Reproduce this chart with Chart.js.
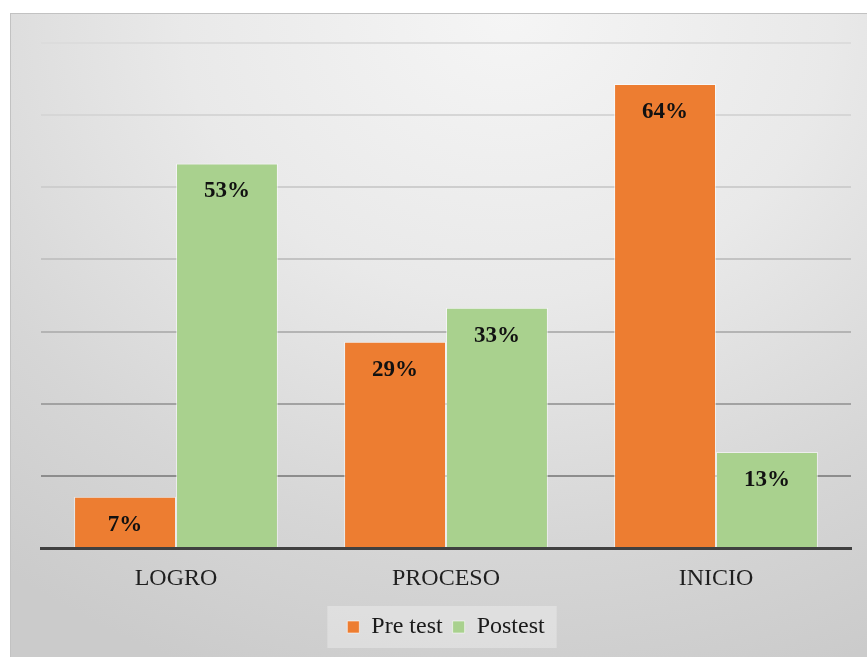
<!DOCTYPE html>
<html>
<head>
<meta charset="utf-8">
<script src="https://cdn.jsdelivr.net/npm/chart.js@4"></script>
<style>
  html, body { margin: 0; padding: 0; background: #ffffff; width: 867px; height: 657px; overflow: hidden; }
  #box {
    position: absolute; left: 10px; top: 13px; width: 856px; height: 643px;
    border-left: 1px solid #c2c2c2; border-top: 1px solid #c2c2c2;
    background: radial-gradient(ellipse 95% 110% at 58% 0%, #f5f5f5 0%, #e9e9e9 40%, #d6d6d6 75%, #cbcbcb 100%);
  }
  #wrap { position: absolute; left: 0; top: 0; width: 856px; height: 643px; }
</style>
</head>
<body>
<div id="box"><div id="wrap"><canvas id="c"></canvas></div></div>
<script>
const categories = ['LOGRO', 'PROCESO', 'INICIO'];
const seriesNames = ['Pre test', 'Postest'];
const preTest = [7.1, 28.6, 64.3];
const postTest = [53.3, 33.3, 13.3];
const yTicks = [0, 10, 20, 30, 40, 50, 60, 70];

const gridColors = ['rgba(0,0,0,0)', '#8d8d8d', '#a2a2a2', '#b4b4b4', '#c3c3c3', '#cecece', '#d6d6d6', '#dcdcdc'];

const legendBg = {
  id: 'legendBg',
  beforeDraw(chart) {
    const lg = chart.legend;
    if (!lg || !lg.legendHitBoxes || !lg.legendHitBoxes.length) return;
    const hb = lg.legendHitBoxes;
    const l = hb[0].left - 20;
    const last = hb[hb.length - 1];
    const r = last.left + last.width + 12;
    const ctx = chart.ctx;
    ctx.save();
    ctx.fillStyle = 'rgba(255,255,255,0.3)';
    ctx.fillRect(l, lg.top + 1, r - l, lg.height - 2);
    ctx.restore();
  }
};

const dataLabels = {
  id: 'dataLabels',
  afterDatasetsDraw(chart) {
    const ctx = chart.ctx;
    ctx.save();
    ctx.font = 'bold 23px "Liberation Serif", "Times New Roman", serif';
    ctx.fillStyle = '#111111';
    ctx.textAlign = 'center';
    ctx.textBaseline = 'middle';
    chart.data.datasets.forEach((ds, di) => {
      const meta = chart.getDatasetMeta(di);
      meta.data.forEach((bar, i) => {
        ctx.fillText(Math.round(ds.data[i]) + '%', bar.x, bar.y + 28);
      });
    });
    ctx.restore();
  }
};

new Chart(document.getElementById('c'), {
  type: 'bar',
  data: {
    labels: categories,
    datasets: [
      { label: seriesNames[0], data: preTest, backgroundColor: '#ED7D31', borderColor: 'rgba(255,255,255,0.55)', borderWidth: 1 },
      { label: seriesNames[1], data: postTest, backgroundColor: '#A9D18E', borderColor: 'rgba(255,255,255,0.55)', borderWidth: 1 }
    ]
  },
  options: {
    responsive: true,
    maintainAspectRatio: false,
    animation: false,
    layout: { padding: { left: 30, right: 16, top: 29, bottom: 8 } },
    datasets: { bar: { categoryPercentage: 0.755, barPercentage: 1.0 } },
    plugins: {
      legend: {
        position: 'bottom',
        labels: {
          font: { family: '"Liberation Serif", "Times New Roman", serif', size: 24 },
          color: '#1a1a1a',
          boxWidth: 12,
          boxHeight: 12,
          padding: 10
        }
      },
      tooltip: { enabled: false }
    },
    scales: {
      x: {
        grid: { display: false, drawTicks: false },
        border: { display: true, color: '#404040', width: 3 },
        ticks: {
          font: { family: '"Liberation Serif", "Times New Roman", serif', size: 24 },
          color: '#1f1f1f',
          padding: 16
        },
        afterFit(scale) { scale.height = 57; }
      },
      y: {
        min: 0, max: 70,
        afterBuildTicks(scale) { scale.ticks = yTicks.map(v => ({ value: v })); },
        ticks: { display: false },
        grid: {
          drawTicks: false,
          lineWidth: 2,
          color: ctx => gridColors[ctx.index] || '#d0d0d0'
        },
        border: { display: false },
        afterFit(scale) { scale.width = 0; }
      }
    }
  },
  plugins: [legendBg, dataLabels]
});
</script>
</body>
</html>
